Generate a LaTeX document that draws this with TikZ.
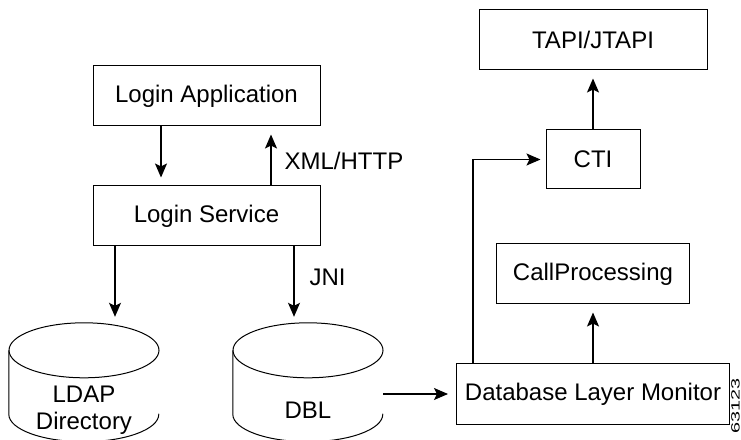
\documentclass[tikz,border=0pt]{standalone}
\usepackage{fontspec}
\setmainfont{Liberation Sans}
\usetikzlibrary{positioning, arrows.meta}

\begin{document}
\begin{tikzpicture}[x=1pt, y=1pt, node distance=59pt,
    font=\fontsize{24}{27}\selectfont,
    box/.style={draw, line width=1pt, minimum height=60pt, inner sep=0pt},
    dbface/.style={minimum width=150pt, minimum height=63.5pt, inner sep=0pt, align=center},
    arr/.style={-{Stealth[length=14pt, width=12pt, inset=3pt]}, line width=1.2pt, shorten >=8pt},
    lbl/.style={inner sep=0pt}]
    \useasboundingbox (0,0) rectangle (741,439);
    % left column
    \node[box, minimum width=227pt] (loginapp) at (206.5,343) {Login Application};
    \node[box, minimum width=227pt, below=of loginapp] (loginsvc) {Login Service};
    \node[dbface] (ldap) at (84,29.25) {LDAP\\Directory};
    \node[dbface] (dbl) at (308,29.25) {DBL};
    % right column
    \node[box, minimum width=228pt] (tapi) at (593,399) {TAPI/JTAPI};
    \node[box, minimum width=94pt, minimum height=59pt, below=of tapi] (cti) {CTI};
    \node[box, minimum width=193pt, below=54pt of cti] (callproc) {CallProcessing};
    \node[box, minimum width=273pt, below=of callproc] (dlm) {Database Layer Monitor};
    \node[rotate=90, inner sep=0pt, font=\fontsize{12}{12}\selectfont] (fignum) at (735.5,33) {\scalebox{1.65}[1]{63123}};
    % cylinders
    \draw[line width=1pt] ([yshift=27.5pt]ldap.north) ellipse[x radius=75pt, y radius=27.5pt];
    \draw[line width=1pt] ([yshift=27.5pt]ldap.north west) -- ([yshift=27.5pt]ldap.south west)
        arc[start angle=180, end angle=360, x radius=75pt, y radius=27.5pt] -- ([yshift=27.5pt]ldap.south east);
    \draw[line width=1pt] ([yshift=27.5pt]dbl.north) ellipse[x radius=75pt, y radius=27.5pt];
    \draw[line width=1pt] ([yshift=27.5pt]dbl.north west) -- ([yshift=27.5pt]dbl.south west)
        arc[start angle=180, end angle=360, x radius=75pt, y radius=27.5pt] -- ([yshift=27.5pt]dbl.south east);
    \coordinate (ldapin) at ([xshift=31pt, yshift=55pt]ldap.north);%top of the cylinder
    \coordinate (dblin) at ([xshift=-14pt, yshift=55pt]dbl.north);
    % connectors
    \draw[arr] ([xshift=-45.5pt]loginapp.south) -- ([xshift=-45.5pt]loginsvc.north);
    \draw[arr] ([xshift=64.5pt]loginsvc.north) -- node[lbl, right=13pt, pos=0.42]{XML/HTTP} ([xshift=64.5pt]loginapp.south);
    \draw[arr, shorten >=6pt] (loginsvc.south -| ldapin) -- (ldapin);
    \draw[arr, shorten >=6pt] (loginsvc.south -| dblin) -- node[lbl, right=15pt, pos=0.4]{JNI} (dblin);
    \draw[arr] (dbl.east |- dlm.west) -- (dlm.west);
    \draw[arr, shorten >=5pt] ([xshift=-120pt]dlm.north) |- (cti.west);
    \draw[arr] (dlm.north) -- (callproc.south);
    \draw[arr] (cti.north) -- (tapi.south);
\end{tikzpicture}
\end{document}
